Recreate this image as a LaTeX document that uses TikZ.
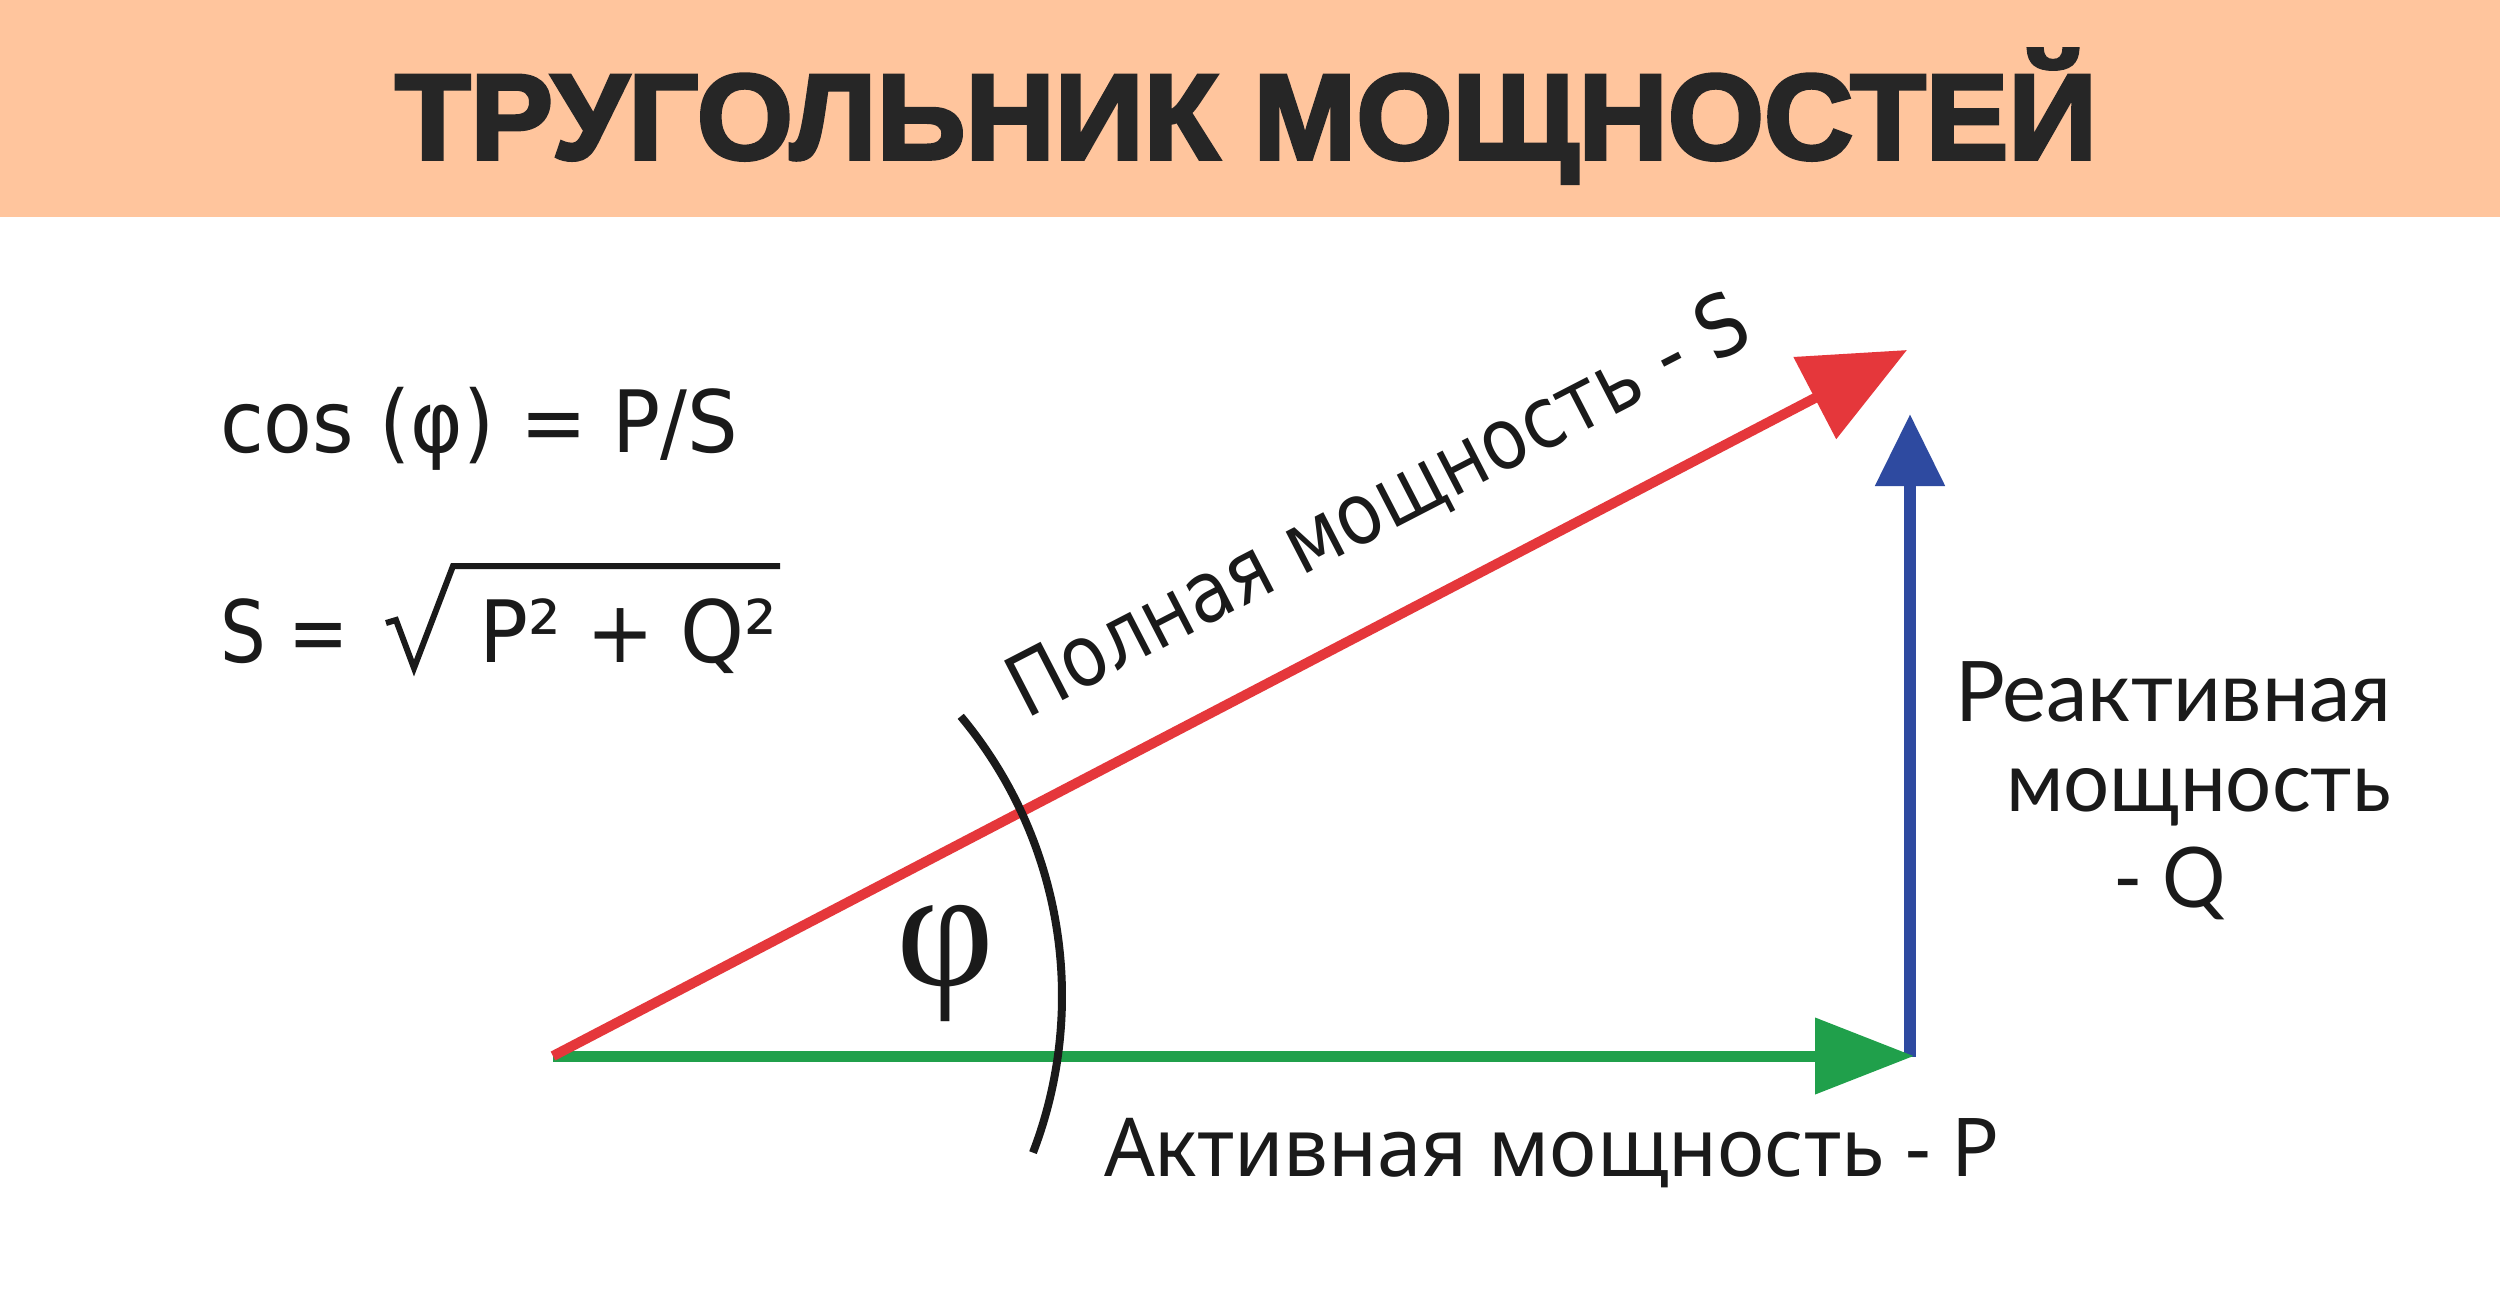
\documentclass[tikz,border=0pt]{standalone}
\usepackage{fontspec}
\usepackage{graphicx}
\usetikzlibrary{arrows.meta}
\setmainfont{DejaVu Sans}
\newfontfamily\titlefont{Liberation Sans}[BoldFeatures={FakeBold=3}]
\newfontfamily\latofont{Lato}
\newfontfamily\notofont{Noto Sans}
\newfontfamily\phifont{Liberation Serif}
\newsavebox\fitbox
\newlength\fitlen
\newcommand\fitw[2]{\sbox\fitbox{#2}\fitlen=\wd\fitbox\pgfmathsetmacro\fitratio{#1*0.5/\fitlen}\scalebox{\fitratio}[1]{\usebox\fitbox}}
\definecolor{headbg}{HTML}{FFC59D}
\definecolor{titlec}{HTML}{262626}
\definecolor{redc}{HTML}{E5373B}
\definecolor{greenc}{HTML}{20A04B}
\definecolor{bluec}{HTML}{2E4AA0}
\definecolor{inkc}{HTML}{1A1A1A}
\begin{document}
\begin{tikzpicture}[x=0.5pt,y=-0.5pt,
  txt/.style={inner sep=0pt,outer sep=0pt,text=inkc},
  formula/.style={txt,font=\fontsize{43pt}{50pt}\selectfont},
  vec/.style={line width=5.5pt},
]
\useasboundingbox (0,0) rectangle (2500,1314);
\fill[white] (0,0) rectangle (2500,1314);
\fill[headbg] (0,0) rectangle (2500,217);
\node[txt,anchor=base,text=titlec,font=\titlefont\bfseries\fontsize{60.8pt}{70pt}\selectfont] (title) at (1246,159) {\fitw{1702}{ТРУГОЛЬНИК МОЩНОСТЕЙ}};

% formulas
\node[formula,anchor=base west] (f1) at (220,452) {\fitw{518}{cos (φ) = P/S}};
\node[formula,anchor=base west] (f2a) at (220,662) {\fitw{129}{S =}};
\node[formula,anchor=base west] (f2b) at (479,662) {\fitw{298}{P² + Q²}};
\draw[inkc,line width=3pt,line join=miter] (386,623) -- (396,620) -- (414,668) -- (453,566) -- (780,566);

% vertices
\coordinate (O) at (553,1056);
\coordinate (Gt) at (1914,1056);
\coordinate (Bt) at (1910,414);
\coordinate (Bb) at (1910,1057);
\coordinate (Rt) at (1907,350);

% vectors
\draw[vec,bluec,line width=6pt,-{Triangle[length=36pt,width=33.5pt]}] (Bb) -- (Bt);
\draw[vec,greenc,-{Triangle[length=49.5pt,width=37pt]}] (O) -- (Gt);
\draw[vec,redc,line width=5pt,-{Triangle[length=52pt,width=45pt]}] (O) -- (Rt);

% angle arc
\draw[inkc,line width=4pt] (625,996) ++(-39.8:437) arc[start angle=-39.8,end angle=21,radius=437];
\node[txt,anchor=base,font=\phifont\fontsize{85pt}{90pt}\selectfont] (phi) at (945,985) {\fitw{98}{φ}};

% labels
\node[txt,anchor=base west,rotate=27.3,font=\fontsize{42.5pt}{50pt}\selectfont] (lS) at (1026,719) {\fitw{822}{Полная мощность - S}};
\node[txt,anchor=base west,font=\notofont\fontsize{40.6pt}{48pt}\selectfont] (lP) at (1104,1176) {\fitw{896}{Активная мощность - P}};
\node[txt,anchor=base east,font=\latofont\fontsize{41.8pt}{48pt}\selectfont] (lQ1) at (2391,721) {\fitw{436}{Реактивная}};
\node[txt,anchor=base east,font=\latofont\fontsize{41.8pt}{48pt}\selectfont] (lQ2) at (2391,811) {\fitw{385}{мощность}};
\node[txt,anchor=base west,font=\latofont\fontsize{41.8pt}{48pt}\selectfont] (lQ3) at (2113,907) {\fitw{113}{- Q}};
\end{tikzpicture}
\end{document}
